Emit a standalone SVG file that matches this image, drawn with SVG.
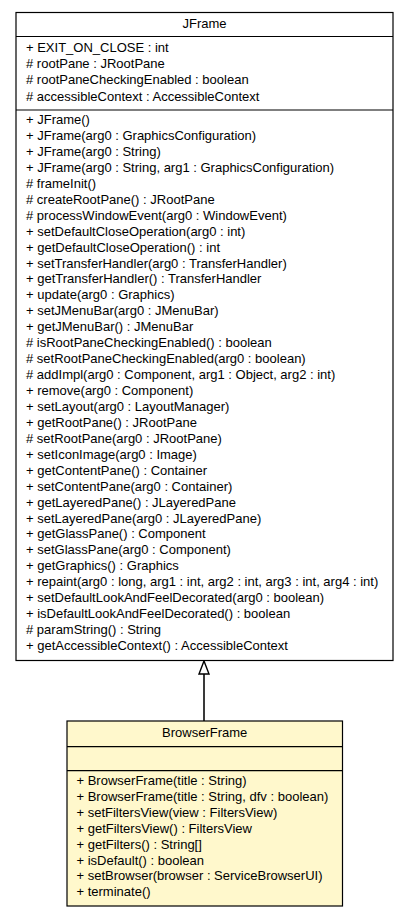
<svg xmlns="http://www.w3.org/2000/svg" width="408" height="917" viewBox="0 0 408 917">
<style>
text{font-family:"Liberation Sans",Arial,Helvetica,sans-serif;font-size:13px;fill:#000}
.c{text-anchor:middle}
.box{stroke:#000;stroke-width:1.2}
.sep{stroke:#000;stroke-width:1.2}
.edge{stroke:#3a3a3a;stroke-width:2;fill:none}
</style>
<defs>
<marker id="gen" viewBox="0 0 12 16" refX="6" refY="0.5" markerWidth="12" markerHeight="16" markerUnits="userSpaceOnUse" orient="0">
<path d="M6,0.5 L11,14 L1,14 Z" fill="#fff" stroke="#000" stroke-width="1.4"/>
</marker>
</defs>
<rect width="408" height="917" fill="#fff"/>
<g id="connectors">
<line class="edge" x1="204" y1="721" x2="204" y2="674"/>
<path d="M204,661 L209,674 L199,674 Z" fill="#fff" stroke="#000" stroke-width="1.4"/>
</g>
<g id="JFrame">
<rect class="box" x="16" y="12.5" width="377" height="648" fill="#fff"/>
<line class="sep" x1="16" y1="36.5" x2="393" y2="36.5"/>
<line class="sep" x1="16" y1="110" x2="393" y2="110"/>
<text class="c" x="204.5" y="28">JFrame</text>
<text x="26" y="52">+ EXIT_ON_CLOSE : int</text>
<text x="26" y="68">#&#160;rootPane : JRootPane</text>
<text x="26" y="84.3">#&#160;rootPaneCheckingEnabled : boolean</text>
<text x="26" y="100.5">#&#160;accessibleContext : AccessibleContext</text>
<text x="26" y="124">+ JFrame()</text>
<text x="26" y="139.9">+ JFrame(arg0 : GraphicsConfiguration)</text>
<text x="26" y="155.9">+ JFrame(arg0 : String)</text>
<text x="26" y="171.8">+ JFrame(arg0 : String, arg1 : GraphicsConfiguration)</text>
<text x="26" y="187.8">#&#160;frameInit()</text>
<text x="26" y="203.7">#&#160;createRootPane() : JRootPane</text>
<text x="26" y="219.6">#&#160;processWindowEvent(arg0 : WindowEvent)</text>
<text x="26" y="235.6">+ setDefaultCloseOperation(arg0 : int)</text>
<text x="26" y="251.5">+ getDefaultCloseOperation() : int</text>
<text x="26" y="267.5">+ setTransferHandler(arg0 : TransferHandler)</text>
<text x="26" y="283.4">+ getTransferHandler() : TransferHandler</text>
<text x="26" y="299.3">+ update(arg0 : Graphics)</text>
<text x="26" y="315.3">+ setJMenuBar(arg0 : JMenuBar)</text>
<text x="26" y="331.2">+ getJMenuBar() : JMenuBar</text>
<text x="26" y="347.2">#&#160;isRootPaneCheckingEnabled() : boolean</text>
<text x="26" y="363.1">#&#160;setRootPaneCheckingEnabled(arg0 : boolean)</text>
<text x="26" y="379">#&#160;addImpl(arg0 : Component, arg1 : Object, arg2 : int)</text>
<text x="26" y="395">+ remove(arg0 : Component)</text>
<text x="26" y="410.9">+ setLayout(arg0 : LayoutManager)</text>
<text x="26" y="426.9">+ getRootPane() : JRootPane</text>
<text x="26" y="442.8">#&#160;setRootPane(arg0 : JRootPane)</text>
<text x="26" y="458.7">+ setIconImage(arg0 : Image)</text>
<text x="26" y="474.7">+ getContentPane() : Container</text>
<text x="26" y="490.6">+ setContentPane(arg0 : Container)</text>
<text x="26" y="506.6">+ getLayeredPane() : JLayeredPane</text>
<text x="26" y="522.5">+ setLayeredPane(arg0 : JLayeredPane)</text>
<text x="26" y="538.4">+ getGlassPane() : Component</text>
<text x="26" y="554.4">+ setGlassPane(arg0 : Component)</text>
<text x="26" y="570.3">+ getGraphics() : Graphics</text>
<text x="26" y="586.3">+ repaint(arg0 : long, arg1 : int, arg2 : int, arg3 : int, arg4 : int)</text>
<text x="26" y="602.2">+ setDefaultLookAndFeelDecorated(arg0 : boolean)</text>
<text x="26" y="618.1">+ isDefaultLookAndFeelDecorated() : boolean</text>
<text x="26" y="634.1">#&#160;paramString() : String</text>
<text x="26" y="650">+ getAccessibleContext() : AccessibleContext</text>
</g>
<g id="BrowserFrame">
<rect class="box" x="67" y="721" width="275.5" height="185" fill="#fff8cc"/>
<line class="sep" x1="67" y1="746.7" x2="342.5" y2="746.7"/>
<line class="sep" x1="67" y1="770.7" x2="342.5" y2="770.7"/>
<text class="c" x="204.7" y="736.5">BrowserFrame</text>
<text x="76.5" y="785">+ BrowserFrame(title : String)</text>
<text x="76.5" y="800.9">+ BrowserFrame(title : String, dfv : boolean)</text>
<text x="76.5" y="816.8">+ setFiltersView(view : FiltersView)</text>
<text x="76.5" y="832.7">+ getFiltersView() : FiltersView</text>
<text x="76.5" y="848.6">+ getFilters() : String[]</text>
<text x="76.5" y="864.5">+ isDefault() : boolean</text>
<text x="76.5" y="880.4">+ setBrowser(browser : ServiceBrowserUI)</text>
<text x="76.5" y="896.3">+ terminate()</text>
</g>
</svg>
